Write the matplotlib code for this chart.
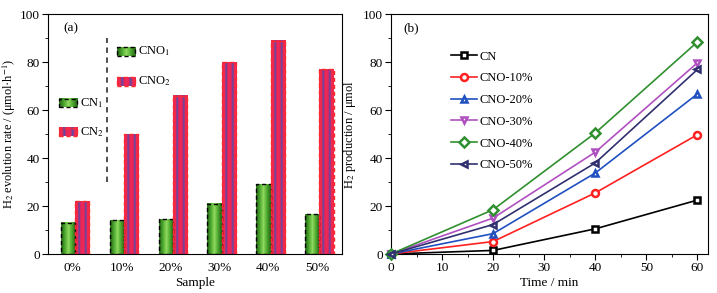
import numpy as np
import matplotlib.pyplot as plt
from matplotlib.colors import to_rgb
from matplotlib.patches import Rectangle
from matplotlib.ticker import MultipleLocator

plt.rcParams['font.family'] = ['Liberation Serif', 'DejaVu Serif']
plt.rcParams['mathtext.fontset'] = 'stix'

# (a) bar data
samples = ['0%', '10%', '20%', '30%', '40%', '50%']
rate_1 = [13, 14, 14.5, 21, 29, 16.5]
rate_2 = [22, 50, 66, 80, 89, 77]

# (b) line data
time_min = [0, 20, 40, 60]
series_names = ['CN', 'CNO-10%', 'CNO-20%', 'CNO-30%', 'CNO-40%', 'CNO-50%']
production = [
    [0, 1.5, 10.5, 22.5],
    [0, 5.2, 25.5, 49.8],
    [0, 8.5, 33.8, 66.8],
    [0, 15.0, 42.5, 79.8],
    [0, 18.5, 50.5, 88.5],
    [0, 12.3, 38.0, 77.0],
]
line_colors = ['#000000', '#ff2020', '#2050c0', '#b050c0', '#309030', '#303070']
line_markers = ['s', 'o', '^', 'v', 'D', '<']

# fills for the bars
green_cols = np.array([to_rgb(c) for c in ['#2f7a1c', '#55b035', '#8ed85e', '#55b035', '#2f7a1c']])
stripe_cols = np.array([to_rgb(c) for c in ['#f0284e', '#f0284e', '#5a4aa8', '#e8245a', '#ee2a58',
                                            '#e8245a', '#5a4aa8', '#f0284e', '#f0284e']])


def gbar(ax, x0, x1, y0, y1, cols, edge):
    img = cols[np.newaxis, :, :]
    ax.imshow(img, extent=[x0, x1, y0, y1], aspect='auto', interpolation='bilinear', zorder=2)
    ax.add_patch(Rectangle((x0, y0), x1 - x0, y1 - y0, fill=False, ls=(0, (3, 2)),
                           lw=1.0, edgecolor=edge, zorder=3))


fig = plt.figure(figsize=(7.17, 2.93), dpi=100)
ax1 = fig.add_axes([0.0674, 0.1331, 0.4092, 0.818])
ax2 = fig.add_axes([0.5453, 0.1331, 0.4417, 0.818])

# ---- panel (a)
w = 0.29
for i in range(len(samples)):
    gbar(ax1, i - 0.245, i - 0.245 + w, 0, rate_1[i], green_cols, 'black')
    gbar(ax1, i + 0.045, i + 0.045 + w, 0, rate_2[i], stripe_cols, '#ff2a2a')

# legend drawn by hand
leg = [(-0.276, 63, green_cols, 'black', 'CN$_1$'),
       (-0.276, 51, stripe_cols, '#ff2a2a', 'CN$_2$'),
       (0.90, 84.5, green_cols, 'black', 'CNO$_1$'),
       (0.90, 72, stripe_cols, '#ff2a2a', 'CNO$_2$')]
for lx, ly, cols, edge, lab in leg:
    gbar(ax1, lx, lx + 0.37, ly - 1.7, ly + 1.7, cols, edge)
    ax1.text(lx + 0.43, ly, lab, fontsize=9, va='center', ha='left')
ax1.plot([0.69, 0.69], [30, 90], ls=(0, (3, 2.5)), color='#404040', lw=1.3)

ax1.set_xlim(-0.5, 5.5)
ax1.set_ylim(0, 100)
ax1.set_xticks(range(len(samples)))
ax1.set_xticklabels(samples)
ax1.yaxis.set_major_locator(MultipleLocator(20))
ax1.yaxis.set_minor_locator(MultipleLocator(10))
ax1.tick_params(axis='x', length=0, labelsize=9.5, pad=6)
ax1.tick_params(axis='y', which='major', length=4, labelsize=9.5, pad=2)
ax1.tick_params(axis='y', which='minor', length=2)
ax1.set_xlabel('Sample', fontsize=9.5, labelpad=2)
ax1.set_ylabel('H$_2$ evolution rate / (μmol·h$^{-1}$)', fontsize=8.8)
ax1.yaxis.set_label_coords(-0.103, 0.5)
ax1.text(0.05, 0.94, '(a)', transform=ax1.transAxes, fontsize=9.5, va='center')

# ---- panel (b)
for name, vals, c, m in zip(series_names, production, line_colors, line_markers):
    ax2.plot(time_min, vals, color=c, marker=m, ms=5, mfc='white', mec=c, mew=1.8,
             lw=1.2, label=name, clip_on=False, zorder=3)
ax2.set_xlim(0, 62)
ax2.set_ylim(0, 100)
ax2.xaxis.set_major_locator(MultipleLocator(10))
ax2.xaxis.set_minor_locator(MultipleLocator(5))
ax2.yaxis.set_major_locator(MultipleLocator(20))
ax2.yaxis.set_minor_locator(MultipleLocator(10))
ax2.tick_params(which='major', length=4, labelsize=9.5, pad=2)
ax2.tick_params(which='minor', length=2)
ax2.set_xlabel('Time / min', fontsize=9.5, labelpad=2)
ax2.set_ylabel('H$_2$ production / μmol', fontsize=9)
ax2.yaxis.set_label_coords(-0.104, 0.5)
ax2.text(0.04, 0.94, '(b)', transform=ax2.transAxes, fontsize=9.5, va='center')
ax2.legend(loc='upper left', bbox_to_anchor=(0.17, 0.875), frameon=False, fontsize=9,
           handlelength=2.1, handletextpad=0.2, labelspacing=0.78, borderpad=0)

fig.savefig('out.png', dpi=100)
